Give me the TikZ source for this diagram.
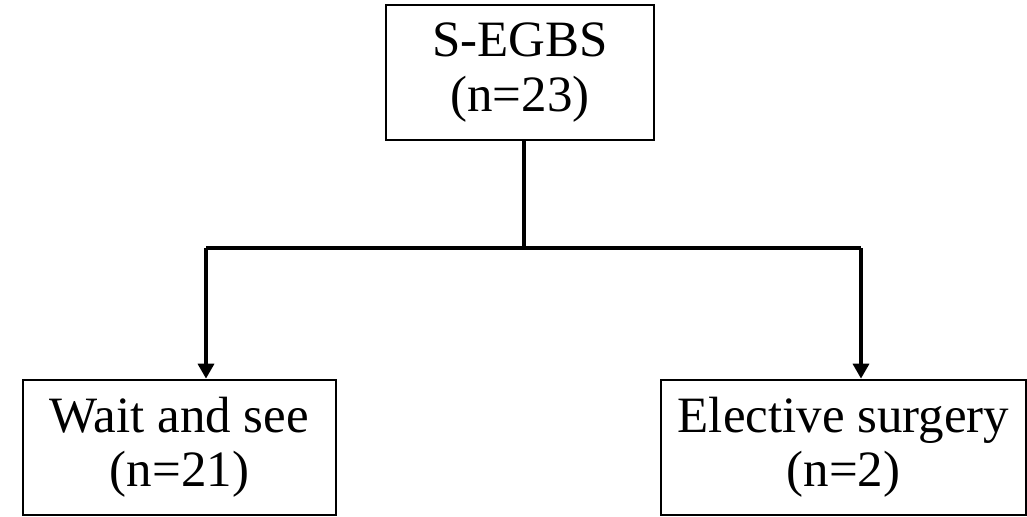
\documentclass[tikz,border=0pt]{standalone}
\usepackage{fontspec}
\setmainfont{Liberation Serif}
\usetikzlibrary{arrows.meta}
\tikzset{
  groupbox/.style={draw, line width=1.5pt, minimum height=2.7cm, align=center,
    inner sep=0pt, font=\fontsize{29}{31}\selectfont},
  link/.style={line width=2.3pt},
  linkarrow/.style={link, -{Triangle[length=8.5pt,width=9pt]}}
}
\begin{document}
\begin{tikzpicture}
\useasboundingbox (0,0) rectangle (20.54,10.32);
\node[groupbox, minimum width=5.36cm] (total) at (10.40,8.87){S-EGBS\\(n=23)};
\node[groupbox, minimum width=6.26cm] (wait) at (3.59,1.37){Wait and see\\(n=21)};
\node[groupbox, minimum width=7.30cm] (surg) at (16.87,1.37){Elective surgery\\(n=2)};
\coordinate (split) at (10.48,5.36);
\coordinate (lft) at (4.12,5.36);
\coordinate (rgt) at (17.22,5.36);
\draw[link](total.south -| split) -- (split);
\draw[link](lft) -- (rgt);
\draw[linkarrow](lft) -- (lft |- wait.north);
\draw[linkarrow](rgt) -- (rgt |- surg.north);
\end{tikzpicture}
\end{document}
